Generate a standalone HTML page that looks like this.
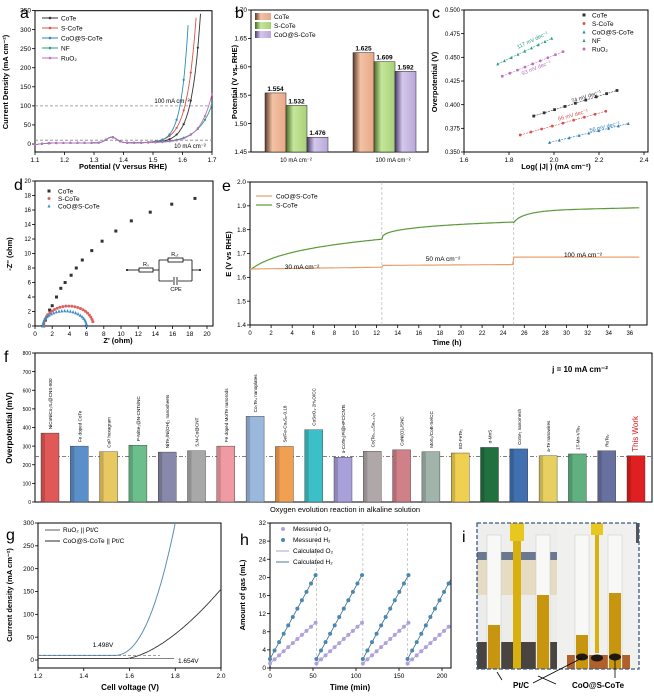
<!DOCTYPE html>
<html><head><meta charset="utf-8"><style>
html,body{margin:0;padding:0;background:#fff}
svg{display:block;font-family:"Liberation Sans",sans-serif}
</style></head><body>
<svg id="s" width="654" height="700" viewBox="0 0 654 700" xmlns="http://www.w3.org/2000/svg">
<defs>
<linearGradient id="gPeach" x1="0" x2="1"><stop offset="0" stop-color="#5a3a2a"/><stop offset="0.35" stop-color="#f3c2a4"/><stop offset="1" stop-color="#e8a888"/></linearGradient>
<linearGradient id="gGreen" x1="0" x2="1"><stop offset="0" stop-color="#4a6a2a"/><stop offset="0.35" stop-color="#c4e69a"/><stop offset="1" stop-color="#a8d078"/></linearGradient>
<linearGradient id="gLav" x1="0" x2="1"><stop offset="0" stop-color="#4a3a6a"/><stop offset="0.35" stop-color="#d4c8ec"/><stop offset="1" stop-color="#b8a8d8"/></linearGradient>
</defs>
</svg>
<script>
const S=document.getElementById('s');const NS='http://www.w3.org/2000/svg';
function el(t,a,txt){const e=document.createElementNS(NS,t);for(const k in a)e.setAttribute(k,a[k]);if(txt!==undefined)e.textContent=txt;S.appendChild(e);return e;}
function line(x1,y1,x2,y2,c,w,d){return el('line',{x1,y1,x2,y2,stroke:c||'#000','stroke-width':w||1,'stroke-dasharray':d||'none'});}
function txt(x,y,s,o){o=o||{};return el('text',Object.assign({x,y,'font-size':o.fs||7,'text-anchor':o.a||'middle',fill:o.c||'#000','font-weight':o.fw||'normal'},o.tr?{transform:o.tr}:{}),s);}
function poly(pts,c,w,d){return el('polyline',{points:pts.map(p=>p[0].toFixed(1)+','+p[1].toFixed(1)).join(' '),fill:'none',stroke:c,'stroke-width':w||1,'stroke-dasharray':d||'none'});}
function frame(x1,y1,x2,y2){el('rect',{x:x1,y:y1,width:x2-x1,height:y2-y1,fill:'none',stroke:'#000','stroke-width':1});}
function xticks(X,vals,y,fmt,fs){vals.forEach(v=>{line(X(v),y,X(v),y+3,'#000',0.8);txt(X(v),y+10,fmt?fmt(v):v,{fs:fs||6.5});});}
function yticks(Y,vals,x,fmt,fs){vals.forEach(v=>{line(x-3,Y(v),x,Y(v),'#000',0.8);txt(x-4,Y(v)+2.2,fmt?fmt(v):v,{fs:fs||6.5,a:'end'});});}
function mark(x,y,c,shape,r){r=r||1.8;if(shape==='s')el('rect',{x:x-r,y:y-r,width:2*r,height:2*r,fill:c});else if(shape==='t')el('polygon',{points:`${x},${y-r-0.4} ${x-r},${y+r} ${x+r},${y+r}`,fill:c});else el('circle',{cx:x,cy:y,r,fill:c});}
function lbl(x,y,s){txt(x,y,s,{fs:16,a:'start'});}

// ===== a =====
{const X=v=>35+(v-1.1)/0.6*177, Y=j=>144-j*0.3814;
frame(35,10.7,212,152);
lbl(20,18,'a');
xticks(X,[1.1,1.2,1.3,1.4,1.5,1.6,1.7],152,v=>v.toFixed(1));
yticks(Y,[0,50,100,150,200,250,300,350],35);
txt(123,169,'Potential (V versus RHE)',{fs:7.5,fw:'bold'});
txt(8,82,'Current Density (mA cm⁻²)',{fs:7.5,fw:'bold',tr:'rotate(-90 8 82)'});
line(35,Y(100),212,Y(100),'#888',0.8,'3,2');line(35,Y(10),212,Y(10),'#888',0.8,'3,2');
txt(172,Y(100)-3,'100 mA cm⁻²',{fs:6});txt(190,Y(10)+8,'10 mA cm⁻²',{fs:6});
const cs=[['#333',1.625,1.662],['#d9534f',1.609,1.648],['#2a8ab8',1.592,1.622],['#2a9d7f',1.70,1.76],['#c070c0',1.69,1.74]];
cs.forEach(([c,v1,v3],i)=>{const b=(v3-v1)/Math.log(3.5);const pts=[];for(let v=1.1;v<=1.7;v+=0.003){let base=-5*Math.exp(-(v-1.1)/0.03)+15*Math.exp(-Math.pow((v-1.36)/0.025,2))+3;let j=base+100*Math.exp((v-v1)/b);if(j>352)break;pts.push([X(v),Y(Math.max(j,-18))]);}
poly(pts,c,0.9);pts.forEach((p,k)=>{if(k%8==0)mark(p[0],p[1],c,'c',1.1);});});
const L=[['CoTe','#333'],['S-CoTe','#d9534f'],['CoO@S-CoTe','#2a8ab8'],['NF','#2a9d7f'],['RuO₂','#c070c0']];
L.forEach(([n,c],i)=>{const y=18+i*10;line(42,y,58,y,c,1);mark(50,y,c,'c',1.3);txt(61,y+2.3,n,{fs:6.5,a:'start'});});}

// ===== b =====
{const Y=v=>10+(1.70-v)/0.05*28.4;
frame(251,10,428,152);lbl(235,18,'b');
yticks(Y,[1.45,1.50,1.55,1.60,1.65,1.70],251,v=>v.toFixed(2));
txt(237,82,'Potential (V vs. RHE)',{fs:7.5,fw:'bold',tr:'rotate(-90 237 82)'});
const g=['url(#gPeach)','url(#gGreen)','url(#gLav)'];
[[265,[1.554,1.532,1.476]],[353,[1.625,1.609,1.592]]].forEach(([x0,vs])=>{vs.forEach((v,i)=>{el('rect',{x:x0+i*21,y:Y(v),width:21,height:152-Y(v),fill:g[i],stroke:'#222','stroke-width':0.5});txt(x0+i*21+10.5,Y(v)-2,v.toFixed(3),{fs:6.5,fw:'bold'});});});
txt(296,162,'10 mA cm⁻²',{fs:6});txt(393,162,'100 mA cm⁻²',{fs:6});
[['CoTe',0],['S-CoTe',1],['CoO@S-CoTe',2]].forEach(([n,i])=>{el('rect',{x:255,y:13+i*9,width:16,height:7,fill:g[i]});txt(274,19+i*9,n,{fs:6.5,a:'start'});});}

// ===== c =====
{const X=l=>464+(l-1.6)/0.8*180, Y=o=>10+(0.5-o)/0.15*142;
frame(464,10,648,152);lbl(432,18,'c');
xticks(X,[1.6,1.8,2.0,2.2,2.4],152,v=>v.toFixed(1));
yticks(Y,[0.35,0.375,0.4,0.425,0.45,0.475,0.5],464,v=>v.toFixed(3),6);
txt(556,169,'Log( |J| ) (mA cm⁻²)',{fs:7.5,fw:'bold'});
txt(437,82,'Overpotential (V)',{fs:7.5,fw:'bold',tr:'rotate(-90 437 82)'});
const D=[['#333',1.91,.388,2.28,.415,'s','74 mV dec⁻¹',2.08,.402],['#d9534f',1.85,.368,2.23,.393,'c','66 mV dec⁻¹',2.02,.383],['#2a7ab8',1.98,.36,2.33,.38,'t','56 mV dec⁻¹',2.16,.371],['#2a9d7f',1.75,.443,1.99,.47,'t','117 mV dec⁻¹',1.84,.459],['#c070c0',1.77,.43,2.04,.456,'c','93 mV dec⁻¹',1.86,.431]];
D.forEach(([c,x1,y1,x2,y2,sh,t,tx,ty])=>{line(X(x1),Y(y1),X(x2),Y(y2),c,0.6,'2,1');for(let k=0;k<=8;k++){const f=k/8;mark(X(x1+(x2-x1)*f),Y(y1+(y2-y1)*f),c,sh,1.4);}
const ang=Math.atan2(Y(y2)-Y(y1),X(x2)-X(x1))*180/Math.PI;txt(X(tx),Y(ty),t,{fs:5.5,c,a:'start',tr:`rotate(${ang.toFixed(1)} ${X(tx)} ${Y(ty)})`});});
[['CoTe','#333','s'],['S-CoTe','#d9534f','c'],['CoO@S-CoTe','#2a7ab8','t'],['NF','#2a9d7f','t'],['RuO₂','#c070c0','c']].forEach(([n,c,sh],i)=>{const y=15+i*8.5;mark(584,y,c,sh,1.5);txt(592,y+2.3,n,{fs:6.5,a:'start'});});}

// ===== d =====
{const X=z=>35+z*8.6, Y=z=>326-z/20*145;
frame(35,181,213,326);lbl(14,190,'d');
xticks(X,[0,2,4,6,8,10,12,14,16,18,20],326);
yticks(Y,[0,2,4,6,8,10,12,14,16,18,20],35,null,6);
txt(118,343,"Z' (ohm)",{fs:7.5,fw:'bold'});
txt(12,254,"-Z'' (ohm)",{fs:7.5,fw:'bold',tr:'rotate(-90 12 254)'});
[[1,0],[1.2,.8],[1.5,1.5],[1.7,2.2],[2,2.8],[2.5,4],[3,5.2],[3.5,6],[4.2,7],[4.8,8],[5.5,9.1],[6.6,10.4],[7.8,11.7],[9.4,13.1],[11.2,14.5],[13.4,15.7],[15.9,16.8],[18.6,17.6]].forEach(p=>mark(X(p[0]),Y(p[1]),'#333','s',1.5));
for(let k=0;k<=24;k++){const t=Math.PI*(1-k/24*0.93);const x=3.9+2.9*Math.cos(t),y=2.75*Math.sin(t);mark(X(x),Y(y),'#e06060','c',1.5);}
for(let k=0;k<=24;k++){const t=Math.PI*(1-k/24);const x=3.45+2.55*Math.cos(t),y=2.1*Math.sin(t);mark(X(x),Y(y),'#3a8ac8','t',1.5);}
[['CoTe','#333','s'],['S-CoTe','#e06060','c'],['CoO@S-CoTe','#3a8ac8','t']].forEach(([n,c,sh],i)=>{const y=191+i*7.5;mark(49,y,c,sh,1.5);txt(58,y+2.3,n,{fs:6.5,a:'start'});});
const cy=270;line(127,cy,139,cy,'#000',0.8);el('rect',{x:139,y:cy-2,width:14,height:4,fill:'none',stroke:'#000','stroke-width':0.8});line(153,cy,159,cy,'#000',0.8);
line(159,cy-10,159,cy+11,'#000',0.8);line(159,cy-10,192,cy-10,'#000',0.8);line(159,cy+11,192,cy+11,'#000',0.8);line(192,cy-10,192,cy+11,'#000',0.8);
el('rect',{x:168,y:cy-12,width:15,height:4,fill:'#fff',stroke:'#000','stroke-width':0.8});
el('rect',{x:173,y:cy+8,width:5,height:6,fill:'#fff'});line(174,cy+7,174,cy+15,'#000',0.8);line(177,cy+7,177,cy+15,'#000',0.8);
line(192,cy,200,cy,'#000',0.8);mark(127,cy,'#000','c',1);mark(200,cy,'#000','c',1);
txt(146,cy-4,'Rₛ',{fs:5.5});txt(175,cy-14,'R꜀ₜ',{fs:5.5});txt(176,cy+21,'CPE',{fs:5.5});}

// ===== e =====
{const X=t=>250+t*10.55, Y=E=>325-(E-1.4)/0.6*143;
frame(250,182,647,325);lbl(222,191,'e');
xticks(X,[0,2,4,6,8,10,12,14,16,18,20,22,24,26,28,30,32,34,36],325,null,6);
yticks(Y,[1.4,1.5,1.6,1.7,1.8,1.9,2.0],250,v=>v.toFixed(1));
txt(447,345,'Time (h)',{fs:7.5,fw:'bold'});
txt(231,254,'E (V vs RHE)',{fs:7.5,fw:'bold',tr:'rotate(-90 231 254)'});
[12.5,25].forEach(t=>line(X(t),182,X(t),325,'#aaa',0.6,'3,2'));
const o=[],g=[];
for(let t=0;t<=37;t+=0.1){let oe,ge;if(t<12.5){oe=1.635+t*0.0006;ge=1.63+0.13*Math.log(1+t*0.6)/Math.log(8.5);}
else if(t<25){const u=t-12.5;oe=1.65+u*0.0003;ge=1.78+0.052*Math.log(1+u*0.8)/Math.log(11)-0.01*Math.exp(-u*3);}
else{const u=t-25;oe=1.685;ge=1.84+0.04*(1-Math.exp(-u/1.5))+u*0.001-0.01*Math.exp(-u*3);}
o.push([X(t),Y(oe)]);g.push([X(t),Y(ge)]);}
poly(g,'#5a9a3a',1.2);poly(o,'#e8a070',1.2);
txt(302,269,'30 mA cm⁻²',{fs:6.5});txt(443,261,'50 mA cm⁻²',{fs:6.5});txt(583,257,'100 mA cm⁻²',{fs:6.5});
line(256,196,272,196,'#e8a070',1.2);txt(276,198.5,'CoO@S-CoTe',{fs:6.5,a:'start'});
line(256,205,272,205,'#5a9a3a',1.2);txt(276,207.5,'S-CoTe',{fs:6.5,a:'start'});}

// ===== f =====
{const Y=v=>502-v/800*149;
frame(35,353,652,502);lbl(4,362,'f');
yticks(Y,[0,100,200,300,400,500,600,700,800],35,null,5);
txt(12,428,'Overpotential (mV)',{fs:8,fw:'bold',tr:'rotate(-90 12 428)'});
txt(345,512,'Oxygen evolution reaction in alkaline solution',{fs:7.5});
txt(580,372,'j = 10 mA cm⁻²',{fs:8,fw:'bold'});
line(35,Y(245),652,Y(245),'#555',0.7,'4,2,1,2');
const B=[[370,'#e05858','NiCoNiCo₂S₄@CNS-800'],[300,'#5b8fc9','Fe doped CoTe'],[270,'#e8c860','CoP hexagram'],[305,'#6cbf8c','P-NiSe₂@N-CNTs/NC'],[268,'#8888aa','NiTe₂/Ni(OH)₂ nanosheets'],[275,'#a8a8a8','S,N-Co@CNT'],[300,'#f09aa4','Fe doped Mo/Te nanorods'],[460,'#9ab8dc','Co₇Te₄ nanoplates'],[298,'#f0a050','Se/Fe-Co₉S₈-0.18'],[388,'#3cc0c8','CoSeO₃·2H₂O/CC'],[240,'#a8a0d8','o-CoTe₂|Pi@HPC/CNTs'],[272,'#b0a8a8','Co(Te₀.₃₃Se₀.₆₇)₂'],[280,'#d08088','CoNi(O)₂/SNC'],[270,'#a0b4ac','MoS₂/CoB-Se/CC'],[263,'#f0d050','ED-FeTe₂'],[293,'#207040','α-MnS'],[285,'#4070b0','CoSe₂ nanomesh'],[248,'#e8d060','a-Te nanowires'],[258,'#60b080','1T-Mn-VTe₂'],[275,'#6870a0','RuTe₂'],[248,'#e02020','This Work']];
B.forEach(([v,c,n],i)=>{const cx=50+i*29.3;el('rect',{x:cx-9,y:Y(v),width:18,height:502-Y(v),fill:c,stroke:'#333','stroke-width':0.4});el('rect',{x:cx-9,y:Y(v),width:4,height:502-Y(v),fill:'#000',opacity:0.15});
const last=i==20;txt(cx+2,Y(v)-4,n,{fs:last?8:4.6,a:'start',c:last?'#e02020':'#000',tr:`rotate(-90 ${cx+2} ${Y(v)-4})`});});}

// ===== g =====
{const X=v=>38+(v-1.2)/0.8*183, Y=j=>660-j/300*137;
frame(38,523,221,668);lbl(6,540,'g');
xticks(X,[1.2,1.4,1.6,1.8,2.0],668,v=>v.toFixed(1));
yticks(Y,[0,50,100,150,200,250,300],38);
txt(130,690,'Cell voltage (V)',{fs:8,fw:'bold'});
txt(12,595,'Current density (mA cm⁻²)',{fs:7.5,fw:'bold',tr:'rotate(-90 12 595)'});
const b=[],k=[];for(let v=1.2;v<=2.0;v+=0.005){const jb=10+(v>1.53?Math.pow((v-1.53)/0.27,2.3)*290:0);if(jb<=302)b.push([X(v),Y(jb)]);const jk=3+(v>1.58?Math.pow((v-1.58)/0.42,1.6)*152:0);k.push([X(v),Y(jk)]);}
poly(b,'#5a8fb8',1);poly(k,'#333',0.9);
line(38,Y(10),160,Y(10),'#666',0.6,'3,2');
txt(103,647,'1.498V',{fs:6.5});txt(178,663,'1.654V',{fs:6.5,a:'start'});
line(130,Y(3),174,Y(3),'#000',0.6);
line(45,530,60,530,'#333',0.8);txt(63,532,'RuO₂ || Pt/C',{fs:6.5,a:'start'});
line(45,541,60,541,'#888',1.8);txt(63,543,'CoO@S-CoTe || Pt/C',{fs:6.5,a:'start'});}

// ===== h =====
{const X=t=>270+t*0.86, Y=m=>668-m/32*145;
frame(270,523,451,668);lbl(240,545,'h');
xticks(X,[0,50,100,150,200],668);
yticks(Y,[0,4,8,12,16,20,24,28,32],270);
txt(350,690,'Time (min)',{fs:8,fw:'bold'});
txt(245,595,'Amount of gas (mL)',{fs:7.5,fw:'bold',tr:'rotate(-90 245 595)'});
[54,108,160].forEach(t=>line(X(t),523,X(t),668,'#aaa',0.6,'3,2'));
[0,54,108,160].forEach(t0=>{const te=Math.min(t0+53,210);const fr=(te-t0)/53;line(X(t0),Y(2),X(te),Y(2+18.5*fr),'#3a6a8a',0.8);line(X(t0),Y(1),X(te),Y(1+9*fr),'#a898d0',0.8);
for(let k=0;k<=10;k++){const t=t0+k*5.3;if(t>211)break;mark(X(t),Y(1+0.9*k),'#b0a0dc','c',2);mark(X(t),Y(2+1.85*k),'#4a88b0','c',2);}});
mark(283,529,'#b0a0dc','c',2);txt(293,531,'Messured O₂',{fs:6.5,a:'start'});
mark(283,540,'#4a88b0','c',2);txt(293,542,'Messured H₂',{fs:6.5,a:'start'});
line(276,551,289,551,'#a898d0',0.9);txt(293,553,'Calculated O₂',{fs:6.5,a:'start'});
line(276,562,289,562,'#3a6a8a',0.9);txt(293,564,'Calculated H₂',{fs:6.5,a:'start'});}

// ===== i =====
{lbl(462,542,'i');
// left photo
el('rect',{x:477,y:523,width:80,height:146,fill:'#eeeeec'});
el('rect',{x:477,y:552,width:80,height:8,fill:'#6a7890'});
el('rect',{x:477,y:560,width:80,height:35,fill:'#e6dcc4'});
el('rect',{x:477,y:595,width:80,height:47,fill:'#ececea'});
el('rect',{x:477,y:642,width:80,height:27,fill:'#4a4440'});
// right photo
el('rect',{x:557,y:523,width:82,height:146,fill:'#f0f0ee'});
el('rect',{x:636,y:523,width:3,height:20,fill:'#555'});
el('rect',{x:567,y:655,width:63,height:14,fill:'#b0602a'});
[[494,625],[543,595],[582,635],[615,593]].forEach(([x,y])=>{el('rect',{x:x-7,y:535,width:14,height:134,fill:'#f8f8f6',stroke:'#c8c8c8','stroke-width':0.5});el('rect',{x:x-6,y,width:12,height:669-y,fill:'#c8960e'});});
el('rect',{x:513,y:523,width:8,height:146,fill:'#d8b010'});el('rect',{x:510,y:523,width:14,height:18,fill:'#e8c820'});
el('rect',{x:595,y:523,width:4,height:130,fill:'#d8b010'});el('rect',{x:591,y:523,width:12,height:12,fill:'#e8c820'});
[[582,657],[597,658],[615,657]].forEach(([x,y])=>el('ellipse',{cx:x,cy:y,rx:6,ry:3.5,fill:'#201810'}));
el('rect',{x:477,y:523,width:162,height:146,fill:'none',stroke:'#3a5a80','stroke-width':1.3,'stroke-dasharray':'4,2'});
txt(521,688,'Pt/C',{fs:8,fw:'bold'});txt(598,688,'CoO@S-CoTe',{fs:8,fw:'bold'});
line(497,672,502,680,'#000',0.8);line(582,658,533,683,'#000',0.8);line(538,676,556,684,'#000',0.8);line(615,660,615,678,'#000',0.8);}
</script>
</body></html>
